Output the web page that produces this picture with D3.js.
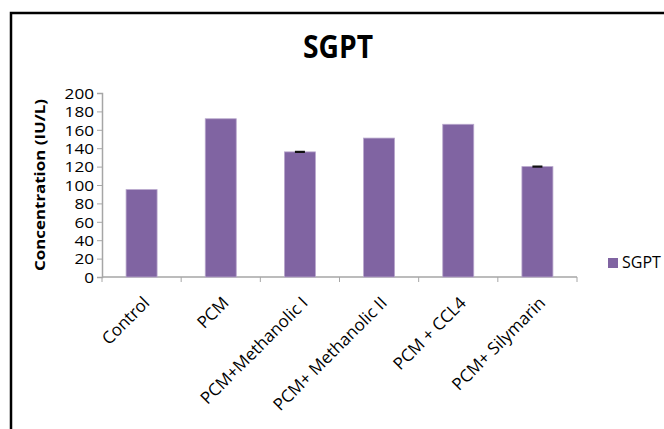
<!DOCTYPE html>
<html>
<head>
<meta charset="utf-8">
<script src="https://cdn.jsdelivr.net/npm/d3@7"></script>
<style>
  body { margin: 0; background: #fff; }
  svg { display: block; font-family: "Open Sans", sans-serif; }
</style>
</head>
<body>
<svg id="chart"></svg>
<script>
const categories = ['Control', 'PCM', 'PCM+Methanolic I', 'PCM+ Methanolic II', 'PCM + CCL4', 'PCM+ Silymarin'];
const values = [95, 172, 136, 151, 166, 120];
const errors = [0, 0, 1.2, 0, 0, 1.2];
const yTicks = [0, 20, 40, 60, 80, 100, 120, 140, 160, 180, 200];
const seriesName = 'SGPT';

const width = 664;
const height = 429;
const margin = { top: 93, right: 87, bottom: 152, left: 102 };

const svg = d3.select('#chart')
    .attr('width', width)
    .attr('height', height);

// frame (top and left edges only, as in the picture)
svg.append('path')
    .attr('d', `M11,${height} L11,13 L${width},13`)
    .attr('fill', 'none')
    .attr('stroke', '#000')
    .attr('stroke-width', 2.5);

svg.append('text')
    .attr('x', 338)
    .attr('y', 58)
    .attr('text-anchor', 'middle')
    .attr('font-weight', 'bold')
    .attr('font-size', 32)
    .attr('textLength', 70)
    .attr('lengthAdjust', 'spacingAndGlyphs')
    .text('SGPT');

const innerW = width - margin.left - margin.right;
const innerH = height - margin.top - margin.bottom;

const y = d3.scaleLinear()
    .domain([0, 200])
    .range([innerH, 0]);

const chart = svg.append('g')
    .attr('transform', `translate(${margin.left},${margin.top})`);

// y axis
const yAxis = chart.append('g')
    .call(d3.axisLeft(y).tickValues(yTicks).tickSize(5).tickPadding(3));
yAxis.select('.domain').attr('stroke', '#a6a6a6').attr('stroke-width', 1.5);
yAxis.selectAll('.tick line').attr('stroke', '#a6a6a6');
yAxis.selectAll('.tick text')
    .attr('font-size', 14.5)
    .attr('fill', '#000')
    .attr('font-family', '"Open Sans", sans-serif')
    .attr('textLength', function() { return this.textContent.length * 9.8; })
    .attr('lengthAdjust', 'spacingAndGlyphs')
    .attr('dy', '0.36em');

chart.append('text')
    .attr('transform', `translate(-57,${innerH / 2}) rotate(-90)`)
    .attr('text-anchor', 'middle')
    .attr('font-weight', 'bold')
    .attr('font-size', 15)
    .attr('textLength', 172)
    .attr('lengthAdjust', 'spacingAndGlyphs')
    .text('Concentration (IU/L)');

// x axis with ticks at category boundaries
const x = d3.scaleBand()
    .domain(categories)
    .range([0, innerW]);
const band = x.bandwidth();
const boundaries = categories.map(c => x(c)).concat([innerW]);

const xAxisG = chart.append('g').attr('transform', `translate(0,${innerH})`);
xAxisG.append('line')
    .attr('x1', 0).attr('x2', innerW)
    .attr('stroke', '#a6a6a6').attr('stroke-width', 1.5);
xAxisG.selectAll('.xt')
    .data(boundaries)
  .enter().append('line')
    .attr('class', 'xt')
    .attr('x1', d => d).attr('x2', d => d)
    .attr('y1', 0).attr('y2', 5)
    .attr('stroke', '#a6a6a6');

xAxisG.selectAll('.xl')
    .data(categories)
  .enter().append('text')
    .attr('class', 'xl')
    .attr('transform', d => `translate(${x(d) + band / 2 + 9},${27}) rotate(-45)`)
    .attr('text-anchor', 'end')
    .attr('font-size', 17)
    .text(d => d);

// bars
const barW = 31;
chart.selectAll('.bar')
    .data(values)
  .enter().append('rect')
    .attr('class', 'bar')
    .attr('x', (d, i) => x(categories[i]) + band / 2 - barW / 2)
    .attr('y', d => y(d))
    .attr('width', barW)
    .attr('height', d => innerH - y(d))
    .attr('fill', '#8064a2')
    .attr('stroke', '#b8a7cc')
    .attr('stroke-width', 0.8);

// error bars
chart.selectAll('.err')
    .data(values.map((v, i) => ({ v, e: errors[i], c: categories[i] })).filter(d => d.e > 0))
  .enter().append('rect')
    .attr('class', 'err')
    .attr('x', d => x(d.c) + band / 2 - 5)
    .attr('y', d => y(d.v + d.e))
    .attr('width', 10)
    .attr('height', d => y(d.v - d.e) - y(d.v + d.e))
    .attr('fill', '#111');

// legend
const legend = svg.append('g').attr('transform', 'translate(608,258)');
legend.append('rect')
    .attr('width', 10).attr('height', 10)
    .attr('fill', '#8064a2');
legend.append('text')
    .attr('x', 14).attr('y', 10)
    .attr('font-size', 16)
    .text(seriesName);
</script>
</body>
</html>
